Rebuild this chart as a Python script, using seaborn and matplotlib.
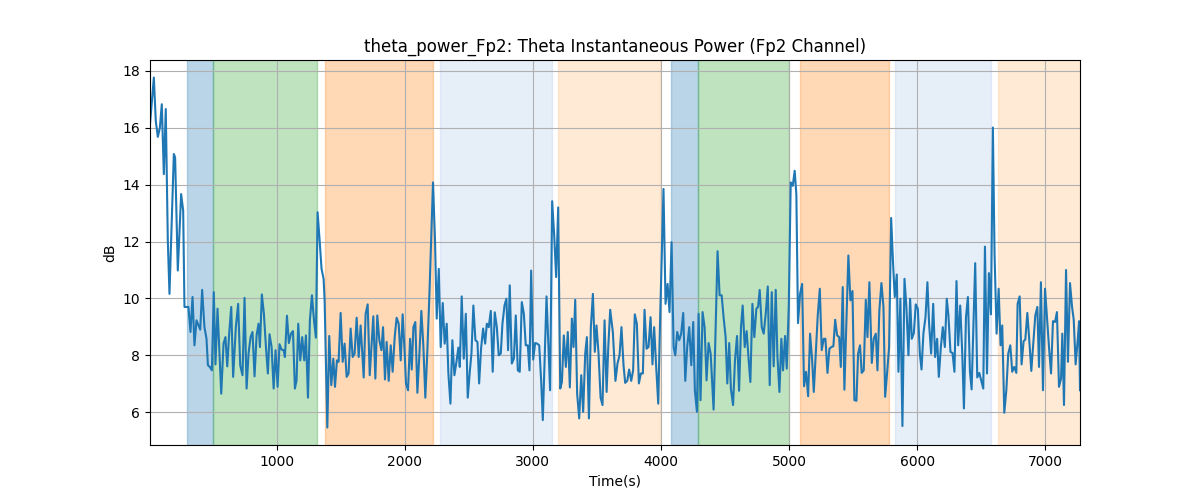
import numpy as np
import pandas as pd
import matplotlib
matplotlib.use("Agg")
import matplotlib.pyplot as plt
import seaborn as sns

time_s = [
    12, 42, 57, 73, 89, 104, 120, 135, 151, 164, 198, 208, 229, 255, 271, 281, 312, 328, 344, 359,
    375, 391, 404, 419, 437, 453, 464, 479, 495, 510, 523, 539, 568, 586, 601, 615, 630, 646, 661, 682,
    700, 716, 734, 750, 766, 781, 797, 812, 828, 844, 859, 870, 885, 901, 917, 932,
    945, 961, 977, 992, 1008, 1023, 1039, 1055, 1065, 1081, 1096, 1112, 1128, 1143, 1156, 1169, 1185,
    1200, 1216, 1229, 1245, 1260, 1276, 1292, 1307, 1320, 1336, 1351, 1367, 1375, 1396, 1411, 1427,
    1443, 1456, 1471, 1484, 1500, 1516, 1531, 1547, 1562, 1578, 1594, 1609, 1625, 1641, 1656, 1680,
    1695, 1711, 1727, 1742, 1755, 1771, 1786, 1802, 1818, 1831, 1846,
    1859, 1875, 1891, 1906, 1922, 1937, 1953, 1969, 1984, 2000, 2010, 2026, 2042, 2055, 2068, 2083,
    2099, 2115, 2130, 2146, 2161, 2177, 2193, 2208, 2221, 2237, 2250, 2266, 2281, 2297, 2312, 2328,
    2341, 2357, 2372, 2388, 2404, 2419, 2430, 2445, 2461, 2477, 2492, 2508, 2521, 2536, 2552, 2568,
    2581, 2596, 2612, 2628, 2641, 2656, 2672, 2687, 2703, 2719, 2734, 2750,
    2763, 2779, 2794, 2807, 2820, 2836, 2852, 2867, 2883, 2898, 2914, 2930, 2945, 2961, 2974, 2987,
    3003, 3018, 3034, 3050, 3065, 3078, 3094, 3107, 3122, 3135, 3151, 3167, 3182, 3198, 3214, 3227,
    3242, 3258, 3273, 3289, 3305, 3318, 3331, 3346, 3362, 3378, 3393, 3409, 3422, 3438, 3453, 3469,
    3484, 3497, 3513, 3529, 3544, 3560, 3576, 3589, 3604, 3625, 3645,
    3661, 3677, 3692, 3708, 3721, 3737, 3752, 3768, 3783, 3796, 3812, 3828, 3843, 3859, 3872, 3888,
    3903, 3919, 3934, 3947, 3963, 3979, 3994, 4020, 4036, 4052, 4067, 4083, 4099, 4112, 4127, 4143,
    4158, 4174, 4190, 4205, 4221, 4237, 4252, 4265, 4281, 4294, 4309, 4325, 4341, 4356, 4372, 4388,
    4411, 4427, 4442, 4458, 4474, 4489, 4505, 4518, 4533, 4546,
    4563, 4578, 4594, 4610, 4625, 4638, 4654, 4669, 4685, 4698, 4714, 4729, 4745, 4758, 4771, 4787,
    4802, 4818, 4834, 4849, 4865, 4880, 4896, 4909, 4925, 4940, 4953, 4969, 4982, 4998, 5013, 5029,
    5044, 5057, 5070, 5086, 5102, 5117, 5133, 5149, 5164, 5180, 5193, 5208, 5224, 5240, 5255, 5271,
    5284, 5300, 5315, 5331, 5346, 5360, 5375, 5391, 5404, 5419,
    5432, 5448, 5463, 5479, 5495, 5510, 5526, 5539, 5554, 5567, 5583, 5599, 5612, 5627, 5646, 5661,
    5677, 5690, 5705, 5721, 5737, 5750, 5765, 5781, 5797, 5812, 5825, 5841, 5854, 5869, 5885, 5901,
    5916, 5932, 5945, 5958, 5974, 5989, 6005, 6021, 6034, 6049, 6065, 6080, 6093, 6109, 6125, 6140,
    6156, 6169, 6185, 6200, 6216, 6231, 6244, 6260, 6276, 6291, 6307, 6320, 6336,
    6352, 6365, 6381, 6396, 6412, 6425, 6440, 6453, 6469, 6485, 6500, 6516, 6529, 6545, 6560, 6576,
    6591, 6604, 6620, 6636, 6651, 6664, 6680, 6696, 6711, 6727, 6742, 6758, 6774, 6784, 6800, 6815,
    6831, 6844, 6860, 6875, 6891, 6907, 6922, 6938, 6951, 6966, 6982, 6998, 7013, 7029, 7045, 7060,
    7076, 7091, 7107, 7123, 7133, 7146, 7162, 7177, 7193, 7209, 7222, 7237, 7253, 7264, 7271,
]

power_db = [
    16.13, 17.77, 16.25, 15.68, 16.0, 16.83, 14.37, 16.66, 12.04, 10.16, 15.08, 14.96, 10.98, 13.67, 13.09, 9.70, 9.70, 8.82, 10.05, 8.35,
    9.23, 9.05, 8.9, 10.30, 8.99, 8.58, 7.65, 7.59, 7.47, 10.22, 7.68, 9.64, 6.65, 8.41, 8.64, 7.61, 8.76, 9.70, 7.24, 8.99,
    9.81, 7.65, 7.30, 10.02, 6.83, 8.06, 8.64, 8.82, 7.26, 8.70, 9.11, 8.29, 10.14, 9.46, 8.29, 7.36,
    8.74, 8.29, 6.83, 8.18, 6.89, 8.39, 8.20, 8.18, 7.94, 9.39, 8.43, 8.76, 8.85, 6.83, 7.12, 9.11, 7.82,
    8.64, 7.82, 8.70, 6.51, 9.23, 10.11, 9.23, 8.62, 13.03, 12.04, 11.04, 10.69, 9.93, 5.46, 8.68, 6.95,
    7.88, 6.89, 7.82, 7.77, 9.49, 7.77, 8.41, 7.24, 7.36, 8.94, 7.94, 8.06, 9.32, 7.94, 9.05, 7.22,
    9.46, 9.79, 7.30, 8.41, 9.37, 7.18, 9.40, 8.53, 8.18, 8.99, 7.15,
    8.47, 7.10, 8.35, 7.42, 8.64, 9.32, 9.11, 7.82, 9.44, 8.06, 7.01, 6.77, 8.58, 7.50, 8.99, 9.17,
    6.68, 8.06, 9.56, 8.29, 6.51, 8.18, 10.16, 12.27, 14.08, 11.98, 9.29, 11.04, 8.29, 9.84, 8.41, 9.11,
    7.36, 6.30, 8.53, 7.30, 7.77, 8.27, 7.59, 10.07, 7.88, 9.46, 6.51, 7.42, 8.06, 9.75, 8.53, 8.47,
    7.01, 8.23, 8.94, 8.41, 9.11, 8.99, 9.56, 7.42, 9.51, 8.99, 8.0, 8.06,
    9.11, 9.75, 9.99, 8.18, 10.46, 7.71, 7.88, 9.40, 7.47, 7.42, 9.87, 9.46, 8.35, 8.35, 7.47, 10.98,
    7.85, 8.43, 8.41, 8.35, 7.12, 5.72, 8.18, 10.07, 8.29, 6.77, 13.42, 12.21, 10.75, 13.20, 6.83, 7.06,
    8.70, 7.59, 8.82, 6.87, 9.29, 8.29, 9.95, 6.65, 5.78, 7.30, 6.01, 8.06, 8.64, 5.78, 8.99, 10.16,
    8.12, 9.05, 8.06, 6.51, 6.25, 9.23, 6.71, 8.29, 9.60, 8.8, 7.10,
    7.71, 8.0, 8.99, 7.65, 7.03, 7.10, 7.50, 7.10, 7.47, 9.44, 9.11, 7.01, 7.36, 7.36, 9.60, 8.23,
    8.29, 9.34, 7.68, 8.99, 7.59, 6.30, 9.34, 13.85, 9.81, 10.51, 9.52, 11.98, 8.29, 8.0, 8.82, 8.53,
    8.76, 9.49, 7.10, 8.29, 8.99, 7.65, 9.17, 6.77, 6.01, 9.46, 6.42, 9.52, 8.99, 7.12, 8.43, 8.06,
    6.09, 8.99, 11.66, 10.11, 10.11, 9.34, 8.64, 7.01, 8.43, 6.83,
    6.25, 7.82, 8.68, 6.75, 8.99, 9.75, 8.29, 8.85, 7.82, 7.06, 9.81, 8.64, 9.64, 9.70, 10.30, 8.99,
    8.76, 9.46, 10.42, 6.95, 10.22, 7.61, 10.30, 8.0, 6.71, 8.58, 7.47, 8.68, 7.53, 9.75, 14.08, 13.96,
    14.49, 13.67, 9.13, 10.16, 10.51, 6.91, 7.42, 6.56, 8.76, 7.85, 6.71, 8.0, 9.40, 10.34, 8.18, 8.58,
    8.58, 7.38, 8.23, 8.29, 8.32, 9.25, 8.70, 8.64, 7.59, 10.40,
    6.79, 9.23, 11.51, 9.93, 10.26, 6.42, 6.40, 8.06, 8.35, 7.38, 7.47, 9.95, 8.64, 10.57, 7.73, 8.58,
    8.76, 7.47, 9.58, 10.54, 9.70, 6.54, 7.36, 8.29, 12.83, 11.22, 10.05, 10.84, 7.42, 9.99, 5.51, 10.69,
    9.70, 8.0, 9.99, 8.58, 8.78, 9.79, 9.64, 8.06, 7.50, 8.78, 9.34, 10.57, 9.11, 8.06, 9.81, 7.94,
    8.58, 7.24, 8.29, 8.99, 8.29, 9.99, 9.40, 8.12, 8.08, 7.42, 10.61, 8.35, 9.75,
    8.06, 6.13, 9.34, 10.05, 7.42, 6.80, 9.17, 11.24, 7.22, 7.38, 7.12, 6.83, 11.82, 7.36, 10.89, 9.44,
    16.01, 11.57, 8.76, 10.34, 8.35, 9.05, 5.98, 6.77, 8.06, 8.35, 7.42, 7.59, 7.38, 9.81, 10.07, 7.68,
    8.50, 8.55, 9.49, 8.53, 7.45, 8.43, 9.40, 9.70, 7.59, 10.57, 6.77, 10.34, 9.34, 8.29, 7.36, 9.20,
    9.17, 9.52, 6.89, 7.18, 8.76, 6.25, 11.0, 7.77, 10.54, 9.70, 9.25, 7.68, 8.53, 9.2, 6.77,
]

# Annotated segments: (start, end, colour)
seg_start = [297, 505, 1377, 2275, 3194, 4078, 4289, 5085, 5827, 6632]
seg_end = [505, 1312, 2220, 3147, 3992, 4289, 5000, 5780, 6576, 7300]
seg_color = ["#1f77b4", "#2ca02c", "#ff7f0e", "#aec7e8", "#ffbb78",
             "#1f77b4", "#2ca02c", "#ff7f0e", "#aec7e8", "#ffbb78"]

df = pd.DataFrame({"Time(s)": time_s, "dB": power_db})

fig, ax = plt.subplots(figsize=(12, 5), dpi=100)
for s, e, c in zip(seg_start, seg_end, seg_color):
    ax.axvspan(s, e, color=c, alpha=0.3)
sns.lineplot(data=df, x="Time(s)", y="dB", ax=ax, color="tab:blue", linewidth=1.5)
ax.set_xlim(min(time_s), max(time_s))
ax.grid(True)
ax.set_title("theta_power_Fp2: Theta Instantaneous Power (Fp2 Channel)")
ax.set_xlabel("Time(s)")
ax.set_ylabel("dB")
fig.savefig("out.png", dpi=100)
